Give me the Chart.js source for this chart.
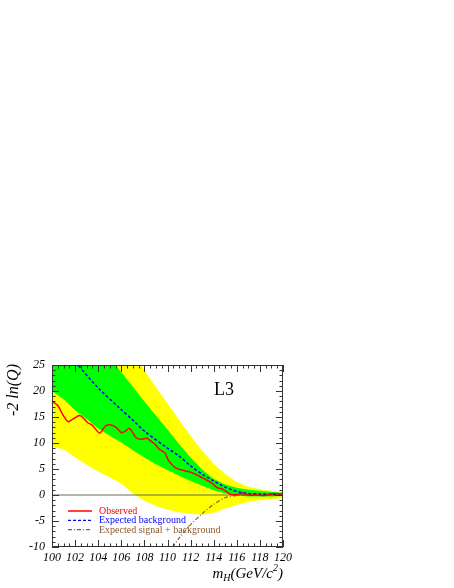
<!DOCTYPE html>
<html>
<head>
<meta charset="utf-8">
<script src="https://cdn.jsdelivr.net/npm/chart.js@4.4.1/dist/chart.umd.min.js"></script>
<style>
  html, body { margin: 0; padding: 0; background: #fff; }
  canvas { display: block; }
</style>
</head>
<body>
<canvas id="c" width="454" height="588"></canvas>
<script>
// Higgs mass grid for the expected bands (GeV)
const bandMass    = [100, 101, 102, 103, 104, 105, 106, 107, 108, 109, 110, 111, 112, 113, 114, 115, 116, 117, 118, 119, 120];
const yellowUpper = [50.0, 47.0, 43.6, 40.3, 37.0, 33.8, 30.5, 27.3, 24.0, 20.7, 17.6, 14.4, 11.4, 8.5, 6.0, 4.0, 2.5, 1.6, 1.1, 0.8, 0.6];
const greenUpper  = [40.0, 37.2, 34.5, 31.9, 29.3, 26.4, 23.6, 20.8, 18.0, 15.3, 12.6, 9.8, 7.2, 4.9, 3.1, 2.0, 1.4, 1.0, 0.8, 0.6, 0.5];
const greenLower  = [20.0, 18.4, 16.3, 14.6, 12.8, 11.4, 10.1, 8.6, 7.2, 5.9, 4.8, 3.7, 2.7, 1.8, 0.9, 0.3, -0.1, -0.3, -0.3, -0.3, -0.2];
const yellowLower = [9.3, 8.8, 7.2, 5.8, 4.5, 3.4, 2.2, 0.3, -1.1, -2.1, -2.8, -3.3, -3.6, -3.8, -3.4, -2.6, -1.9, -1.3, -1.0, -0.8, -0.6];

// expected background median
const bkgMass = [100, 102, 104, 106, 107, 108, 110, 111, 112, 113, 114, 115, 116, 117, 118, 119, 120];
const bkgVal  = [30.5, 25.6, 20.6, 16.4, 14.4, 12.3, 9.0, 7.5, 5.6, 4.0, 2.7, 1.5, 0.7, 0.3, 0.2, 0.1, 0.0];

// expected signal + background
const sbMass = [110, 111, 112, 113, 114, 115, 116, 117, 118, 119, 120];
const sbVal  = [-11.5, -8.3, -5.7, -3.6, -1.8, -0.5, -0.1, 0.0, 0.0, 0.0, 0.0];

// observed
const obsMass = [100.0, 100.5, 101.0, 101.4, 101.8, 102.4, 102.8, 103.1, 103.5, 104.1, 104.4, 104.7, 105.2, 105.6, 106.0, 106.3, 106.7, 107.3, 107.7, 108.2, 108.6, 108.9, 109.3, 109.8, 110.1, 110.7, 111.4, 112.0, 112.6, 113.2, 113.9, 114.3, 114.7, 115.2, 115.5, 116.1, 116.5, 117.0, 117.8, 118.4, 119.2, 120.0];
const obsVal  = [18.0, 17.2, 15.2, 14.1, 14.6, 15.3, 14.6, 13.9, 13.4, 11.9, 12.6, 13.4, 13.4, 12.9, 12.0, 12.2, 12.8, 11.0, 10.7, 10.9, 10.3, 9.8, 8.8, 8.0, 6.6, 5.2, 4.7, 4.4, 3.8, 3.1, 2.2, 1.4, 1.2, 0.5, 0.1, 0.1, 0.4, 0.0, 0.0, -0.1, 0.3, 0.1];

const zeroMass = [100, 120];
const zeroVal  = [0, 0];

const xTicks = [100, 102, 104, 106, 108, 110, 112, 114, 116, 118, 120];
const yTicks = [-10, -5, 0, 5, 10, 15, 20, 25];

const legendItems = [
  { text: 'Observed', color: '#ff0000', dash: [] },
  { text: 'Expected background', color: '#0000ff', dash: [3, 2] },
  { text: 'Expected signal + background', color: '#8b5a2b', dash: [4, 2, 1, 2] }
];

const pts = (xs, ys) => xs.map((m, i) => ({ x: m, y: ys[i] }));
const SERIF = '"Liberation Serif", "Times New Roman", serif';

// frame with inside ticks, legend and texts
const decorations = {
  id: 'decorations',
  afterDatasetsDraw(chart) {
    const { ctx, chartArea: a, scales: { x, y } } = chart;
    ctx.save();
    ctx.strokeStyle = '#333';
    ctx.lineWidth = 1;
    ctx.strokeRect(a.left + 0.5, a.top + 0.5, a.right - a.left - 1, a.bottom - a.top - 1);

    ctx.beginPath();
    for (let i = 0; i <= 40; i++) {
      const px = Math.round(x.getPixelForValue(100 + i / 2)) + 0.5;
      const len = i % 4 === 0 ? 7 : 3.5;
      ctx.moveTo(px, a.bottom); ctx.lineTo(px, a.bottom - len);
      ctx.moveTo(px, a.top); ctx.lineTo(px, a.top + len);
    }
    for (let v = -10; v <= 25; v++) {
      const py = Math.round(y.getPixelForValue(v)) + 0.5;
      const len = v % 5 === 0 ? 7 : 3.5;
      ctx.moveTo(a.left, py); ctx.lineTo(a.left + len, py);
      ctx.moveTo(a.right, py); ctx.lineTo(a.right - len, py);
    }
    ctx.stroke();

    // legend
    ctx.font = '10px ' + SERIF;
    ctx.textBaseline = 'middle';
    ctx.textAlign = 'left';
    legendItems.forEach((it, i) => {
      const ly = 511 + i * 9.3;
      ctx.strokeStyle = it.color;
      ctx.lineWidth = i === 0 ? 1.5 : 1.3;
      ctx.setLineDash(it.dash);
      ctx.beginPath();
      ctx.moveTo(68, ly); ctx.lineTo(92, ly);
      ctx.stroke();
      ctx.setLineDash([]);
      ctx.fillStyle = it.color;
      ctx.fillText(it.text, 99, ly + 0.5);
    });

    // L3
    ctx.fillStyle = '#000';
    ctx.font = '18px ' + SERIF;
    ctx.textAlign = 'center';
    ctx.fillText('L3', 224, 390);

    // y title
    ctx.save();
    ctx.translate(14, a.top - 1);
    ctx.rotate(-Math.PI / 2);
    ctx.font = 'italic 16px ' + SERIF;
    ctx.textAlign = 'right';
    ctx.textBaseline = 'middle';
    ctx.fillText('-2 ln(Q)', 0, 0);
    ctx.restore();

    // x title m_H(GeV/c^2)
    const big = 'italic 15px ' + SERIF, small = 'italic 10px ' + SERIF;
    const parts = [
      { t: 'm', f: big, dy: 0 },
      { t: 'H', f: small, dy: 3 },
      { t: '(GeV/c', f: big, dy: 0 },
      { t: '2', f: small, dy: -7 },
      { t: ')', f: big, dy: 0 }
    ];
    ctx.textAlign = 'left';
    ctx.textBaseline = 'alphabetic';
    let total = 0;
    parts.forEach(p => { ctx.font = p.f; total += ctx.measureText(p.t).width; });
    let cx = a.right - total;
    parts.forEach(p => {
      ctx.font = p.f;
      ctx.fillText(p.t, cx, 578 + p.dy);
      cx += ctx.measureText(p.t).width;
    });
    ctx.restore();
  }
};

new Chart(document.getElementById('c'), {
  type: 'line',
  data: {
    datasets: [
      { label: 'Observed', data: pts(obsMass, obsVal), borderColor: '#ff0000', borderWidth: 1.5, tension: 0.3, pointRadius: 0, fill: false },
      { label: 'Expected background', data: pts(bkgMass, bkgVal), borderColor: '#0000ff', borderWidth: 1.5, borderDash: [3, 2], tension: 0.3, pointRadius: 0, fill: false },
      { label: 'Expected signal + background', data: pts(sbMass, sbVal), borderColor: '#8b5a2b', borderWidth: 1.2, borderDash: [4, 2, 1, 2], tension: 0.3, pointRadius: 0, fill: false },
      { label: 'zero', data: pts(zeroMass, zeroVal), borderColor: '#6b6b55', borderWidth: 1, pointRadius: 0, fill: false },
      { label: '1 sigma', data: pts(bandMass, greenUpper), borderWidth: 0, pointRadius: 0, backgroundColor: '#00ff00', fill: '+1' },
      { label: '1 sigma low', data: pts(bandMass, greenLower), borderWidth: 0, pointRadius: 0, fill: false },
      { label: '2 sigma', data: pts(bandMass, yellowUpper), borderWidth: 0, pointRadius: 0, backgroundColor: '#ffff00', fill: '+1' },
      { label: '2 sigma low', data: pts(bandMass, yellowLower), borderWidth: 0, pointRadius: 0, fill: false }
    ]
  },
  options: {
    responsive: false,
    animation: false,
    layout: { padding: { left: 0, top: 365, right: 171, bottom: 0 } },
    plugins: { legend: { display: false }, tooltip: { enabled: false } },
    scales: {
      x: {
        type: 'linear', min: 100, max: 120,
        afterFit: s => { s.height = 41; },
        afterBuildTicks: s => { s.ticks = xTicks.map(v => ({ value: v })); },
        grid: { display: false, drawTicks: false },
        border: { display: false },
        ticks: { padding: 4, color: '#000', maxRotation: 0, autoSkip: false, font: { family: SERIF, size: 12, style: 'italic' } }
      },
      y: {
        type: 'linear', min: -10, max: 25,
        afterFit: s => { s.width = 52; },
        afterBuildTicks: s => { s.ticks = yTicks.map(v => ({ value: v })); },
        grid: { display: false, drawTicks: false },
        border: { display: false },
        ticks: { padding: 7, color: '#000', autoSkip: false, font: { family: SERIF, size: 12, style: 'italic' } }
      }
    }
  },
  plugins: [decorations]
});
</script>
</body>
</html>
